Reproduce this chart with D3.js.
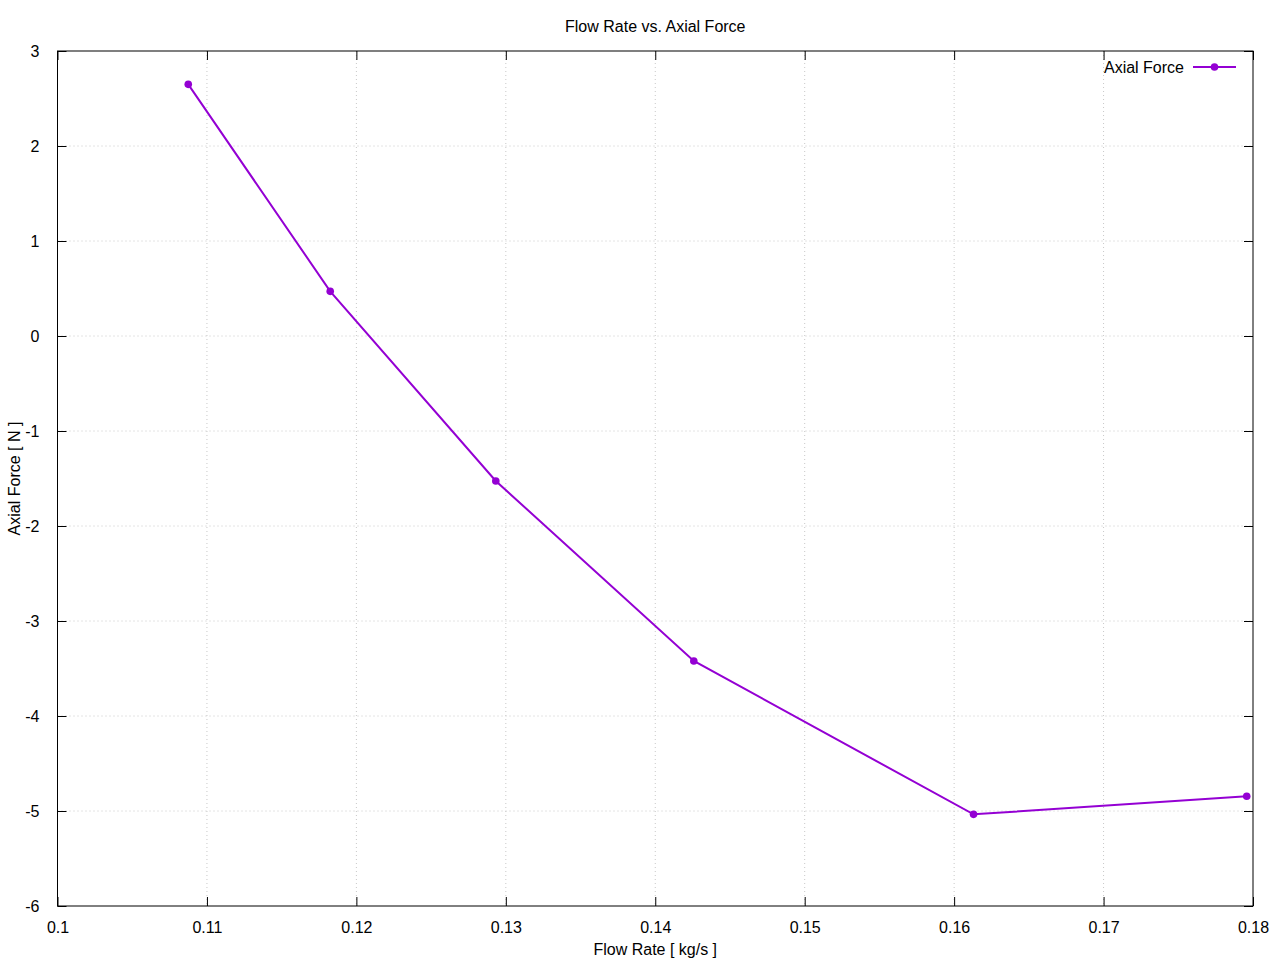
<!DOCTYPE html>
<html>
<head>
<meta charset="utf-8">
<script src="https://cdn.jsdelivr.net/npm/d3@7"></script>
<style>
  html, body { margin: 0; padding: 0; background: #fff; }
  svg { display: block; font-family: "Liberation Sans", Arial, sans-serif; }
</style>
</head>
<body>
<div id="chart"></div>
<script>
// Data
const flowRate = [0.10875, 0.11825, 0.12933, 0.14258, 0.16130, 0.17958];
const axialForce = [2.649, 0.470, -1.526, -3.421, -5.035, -4.845];
const xTicks = [0.1, 0.11, 0.12, 0.13, 0.14, 0.15, 0.16, 0.17, 0.18];
const yTicks = [-6, -5, -4, -3, -2, -1, 0, 1, 2, 3];

const width = 1280, height = 960;
const margin = { top: 51, right: 27, bottom: 54, left: 57.5 };
const plotW = width - margin.left - margin.right;
const plotH = height - margin.top - margin.bottom;
const color = '#9400d3';
const fontSize = '16px';

const svg = d3.select('#chart').append('svg')
  .attr('width', width)
  .attr('height', height);

const x = d3.scaleLinear().domain([0.1, 0.18]).range([margin.left, margin.left + plotW]);
const y = d3.scaleLinear().domain([-6, 3]).range([margin.top + plotH, margin.top]);

// grid
const grid = svg.append('g')
  .attr('stroke', '#c8c8c8')
  .attr('stroke-width', 1)
  .attr('stroke-dasharray', '1,3');
xTicks.slice(1, -1).forEach(t => {
  grid.append('line')
    .attr('x1', x(t)).attr('x2', x(t))
    .attr('y1', margin.top).attr('y2', margin.top + plotH);
});
yTicks.slice(1, -1).forEach(t => {
  grid.append('line')
    .attr('x1', margin.left).attr('x2', margin.left + plotW)
    .attr('y1', y(t)).attr('y2', y(t));
});

// axes with inward ticks on all sides (gnuplot style, plain hyphen minus)
const tickLen = 9;
const fmtX = d => String(+d.toFixed(2));
const fmtY = d => String(d);
svg.append('g')
  .attr('transform', `translate(0,${margin.top + plotH})`)
  .call(d3.axisBottom(x).tickValues(xTicks).tickFormat(fmtX).tickSizeInner(-tickLen).tickSizeOuter(0).tickPadding(tickLen + 7));
svg.append('g')
  .attr('transform', `translate(0,${margin.top})`)
  .call(d3.axisTop(x).tickValues(xTicks).tickFormat('').tickSizeInner(-tickLen).tickSizeOuter(0));
svg.append('g')
  .attr('transform', `translate(${margin.left},0)`)
  .call(d3.axisLeft(y).tickValues(yTicks).tickFormat(fmtY).tickSizeInner(-tickLen).tickSizeOuter(0).tickPadding(tickLen + 9));
svg.append('g')
  .attr('transform', `translate(${margin.left + plotW},0)`)
  .call(d3.axisRight(y).tickValues(yTicks).tickFormat('').tickSizeInner(-tickLen).tickSizeOuter(0));

svg.selectAll('.domain').remove();
svg.selectAll('.tick line').attr('stroke', '#000');
svg.selectAll('.tick text')
  .attr('fill', '#000')
  .style('font-size', fontSize)
  .style('font-family', '"Liberation Sans", Arial, sans-serif');

// border
svg.append('rect')
  .attr('x', margin.left).attr('y', margin.top)
  .attr('width', plotW).attr('height', plotH)
  .attr('fill', 'none')
  .attr('stroke', '#000')
  .attr('stroke-width', 1);

// line + points
const pts = flowRate.map((v, i) => [v, axialForce[i]]);
const line = d3.line().x(d => x(d[0])).y(d => y(d[1]));
svg.append('path')
  .datum(pts)
  .attr('d', line)
  .attr('fill', 'none')
  .attr('stroke', color)
  .attr('stroke-width', 2);
svg.append('g').selectAll('circle')
  .data(pts)
  .enter().append('circle')
  .attr('cx', d => x(d[0]))
  .attr('cy', d => y(d[1]))
  .attr('r', 3.8)
  .attr('fill', color);

// legend
const lg = svg.append('g').attr('transform', 'translate(0,67)');
lg.append('text')
  .attr('x', 1184).attr('y', 6)
  .attr('text-anchor', 'end')
  .style('font-size', fontSize)
  .text('Axial Force');
lg.append('line')
  .attr('x1', 1193).attr('x2', 1236)
  .attr('stroke', color).attr('stroke-width', 2);
lg.append('circle')
  .attr('cx', 1214.5).attr('r', 3.8).attr('fill', color);

// titles
svg.append('text')
  .attr('x', margin.left + plotW / 2).attr('y', 32)
  .attr('text-anchor', 'middle')
  .style('font-size', fontSize)
  .text('Flow Rate vs. Axial Force');
svg.append('text')
  .attr('x', margin.left + plotW / 2).attr('y', 955)
  .attr('text-anchor', 'middle')
  .style('font-size', fontSize)
  .text('Flow Rate [ kg/s ]');
svg.append('text')
  .attr('transform', `translate(20,${margin.top + plotH / 2}) rotate(-90)`)
  .attr('text-anchor', 'middle')
  .style('font-size', fontSize)
  .text('Axial Force [ N ]');
</script>
</body>
</html>
